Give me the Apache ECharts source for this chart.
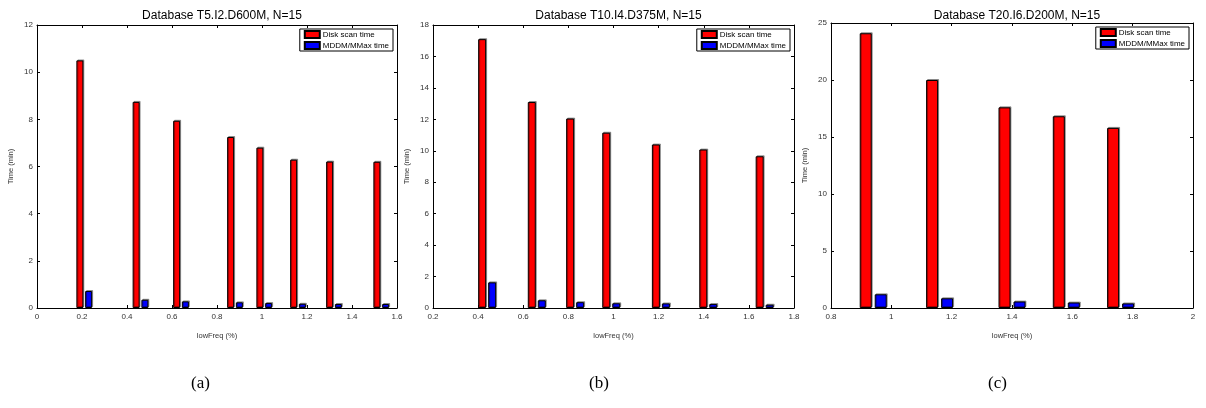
<!DOCTYPE html>
<html>
<head>
<meta charset="utf-8">
<title>Disk scan vs MDDM/MMax time</title>
<script src="https://cdn.jsdelivr.net/npm/echarts@6/dist/echarts.min.js"></script>
<style>
  html, body { margin: 0; padding: 0; background: #fff; }
  #chart { width: 1206px; height: 408px; }
</style>
</head>
<body>
<div id="chart"></div>
<script>
// panel (a) T5.I2.D600M
const lowFreqA = [0.21, 0.46, 0.64, 0.88, 1.01, 1.16, 1.32, 1.53];
const diskA = [10.5, 8.74, 7.94, 7.25, 6.8, 6.29, 6.21, 6.2];
const mddmA = [0.72, 0.35, 0.28, 0.24, 0.21, 0.18, 0.17, 0.17];

// panel (b) T10.I4.D375M
const lowFreqB = [0.44, 0.66, 0.83, 0.99, 1.21, 1.42, 1.67];
const diskB = [17.1, 13.1, 12.05, 11.15, 10.4, 10.08, 9.65];
const mddmB = [1.63, 0.49, 0.37, 0.3, 0.29, 0.25, 0.21];

// panel (c) T20.I6.D200M
const lowFreqC = [0.94, 1.16, 1.4, 1.58, 1.76];
const diskC = [24.1, 20.0, 17.6, 16.82, 15.8];
const mddmC = [1.2, 0.85, 0.57, 0.48, 0.4];

const titles = ["Database T5.I2.D600M, N=15", "Database T10.I4.D375M, N=15", "Database T20.I6.D200M, N=15"];
const captions = ["(a)", "(b)", "(c)"];
const seriesNames = ["Disk scan time", "MDDM/MMax time"];

const font = "Liberation Sans, Arial, sans-serif";

// panel boxes in px: left, top, width, height
const boxes = [
  { left: 37, top: 25, width: 360, height: 283, xMin: 0, xMax: 1.6, xStep: 0.2, yMax: 12, yStep: 2, barW: 7 },
  { left: 433, top: 25, width: 361, height: 283, xMin: 0.2, xMax: 1.8, xStep: 0.2, yMax: 18, yStep: 2, barW: 8 },
  { left: 831, top: 23, width: 362, height: 285, xMin: 0.8, xMax: 2, xStep: 0.2, yMax: 25, yStep: 5, barW: 12 },
];
const panels = [
  { x: lowFreqA, disk: diskA, mddm: mddmA },
  { x: lowFreqB, disk: diskB, mddm: mddmB },
  { x: lowFreqC, disk: diskC, mddm: mddmC },
];

const chart = echarts.init(document.getElementById("chart"), null, { renderer: "canvas" });

const grid = [], xAxis = [], yAxis = [], series = [], title = [], legend = [], graphic = [];

boxes.forEach((b, i) => {
  grid.push({ left: b.left, top: b.top, width: b.width, height: b.height, containLabel: false });

  title.push({
    text: titles[i],
    left: b.left + b.width / 2,
    top: 5,
    textAlign: "center",
    textStyle: { fontFamily: font, fontSize: 12, fontWeight: "normal", color: "#000" },
  });

  const tick = { show: true, inside: true, length: 3, lineStyle: { color: "#000" } };
  const line = { show: true, onZero: false, lineStyle: { color: "#000", width: 1 } };
  const label = { fontFamily: font, fontSize: 8, color: "#333" };

  xAxis.push({
    gridIndex: i, type: "value", position: "bottom",
    min: b.xMin, max: b.xMax, interval: b.xStep,
    axisLine: line, axisTick: tick, splitLine: { show: false },
    axisLabel: Object.assign({ margin: 5 }, label),
    name: "lowFreq (%)", nameLocation: "middle", nameGap: 24,
    nameTextStyle: { fontFamily: font, fontSize: 7.5, color: "#333" },
  });
  xAxis.push({
    gridIndex: i, type: "value", position: "top",
    min: b.xMin, max: b.xMax, interval: b.xStep,
    axisLine: line, axisTick: tick, splitLine: { show: false }, axisLabel: { show: false },
  });
  yAxis.push({
    gridIndex: i, type: "value", position: "left",
    min: 0, max: b.yMax, interval: b.yStep,
    axisLine: line, axisTick: tick, splitLine: { show: false },
    axisLabel: Object.assign({ margin: 4 }, label),
    name: "Time (min)", nameLocation: "middle", nameGap: 22,
    nameTextStyle: { fontFamily: font, fontSize: 7.5, color: "#333" },
  });
  yAxis.push({
    gridIndex: i, type: "value", position: "right",
    min: 0, max: b.yMax, interval: b.yStep,
    axisLine: line, axisTick: tick, splitLine: { show: false }, axisLabel: { show: false },
  });

  const p = panels[i];
  const colors = ["#ff0000", "#0000ff"];
  [p.disk, p.mddm].forEach((vals, k) => {
    series.push({
      name: seriesNames[k],
      type: "bar",
      xAxisIndex: i * 2,
      yAxisIndex: i * 2,
      barWidth: b.barW,
      barGap: "25%",
      data: p.x.map((x, j) => [x, vals[j]]),
      itemStyle: {
        color: colors[k], borderColor: "#000", borderWidth: 1,
        shadowColor: "rgba(0,0,0,0.35)", shadowOffsetX: 1, shadowOffsetY: -1, shadowBlur: 0,
      },
      emphasis: { disabled: true },
      animation: false,
    });
  });

  legend.push({
    data: seriesNames.map((n) => ({ name: n, icon: "rect" })),
    orient: "vertical",
    right: 1206 - (b.left + b.width) + 4,
    top: b.top + 4,
    align: "left",
    itemWidth: 15,
    itemHeight: 7,
    itemGap: 2,
    padding: [1, 4, 1, 4],
    borderColor: "#000",
    borderWidth: 1,
    backgroundColor: "#fff",
    selectedMode: false,
    textStyle: { fontFamily: font, fontSize: 8, color: "#000", padding: [0, 0, 0, -2] },
  });

  graphic.push({
    type: "text",
    left: [200, 598, 997][i] - 9,
    top: 375,
    style: { text: captions[i], fontFamily: "Liberation Serif, DejaVu Serif, serif", fontSize: 17, fill: "#000" },
  });
});

chart.setOption({
  animation: false,
  backgroundColor: "#fff",
  title: title,
  legend: legend,
  grid: grid,
  xAxis: xAxis,
  yAxis: yAxis,
  series: series,
  graphic: graphic,
});

window.addEventListener("resize", () => {
  chart.resize();
});
</script>
</body>
</html>
